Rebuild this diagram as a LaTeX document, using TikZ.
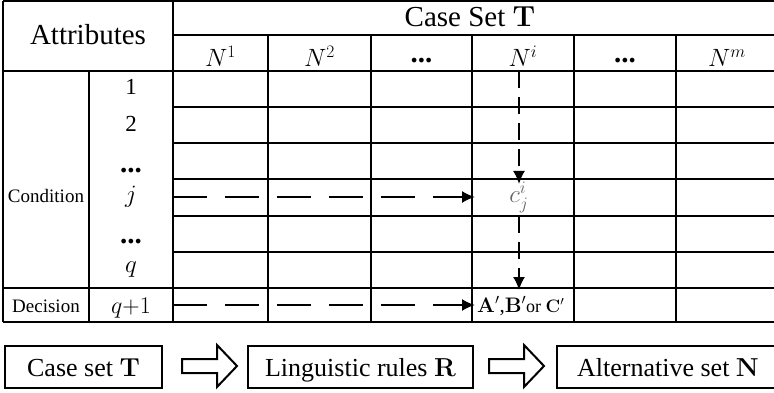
\RequirePackage{fix-cm}
\documentclass[tikz,border=0pt]{standalone}
\usepackage[no-math]{fontspec}
\setmainfont{Liberation Serif}
\usetikzlibrary{arrows.meta}
\newcommand{\fsz}[1]{\fontsize{#1}{#1}\selectfont}
\begin{document}
\begin{tikzpicture}[x=1pt,y=-1pt,
  gridline/.style={line width=1.9pt},
  heavyline/.style={line width=2.8pt},
  thinline/.style={line width=1.4pt},
  lbl/.style={inner sep=0pt, anchor=base},
  hdash/.style={line width=1.9pt, dash pattern=on 34pt off 18pt, -{Latex[length=13pt,width=12pt]}},
  vdash/.style={line width=1.9pt, dash pattern=on 17pt off 9pt, -{Latex[length=13pt,width=12pt]}},
  flowbox/.style={draw, line width=2pt, inner sep=0pt, minimum height=42pt},
  blockarrow/.style={draw, line width=2pt, line join=miter, fill=white},
  dots/.style={lbl, font=\fsz{29}\bfseries}
]
\useasboundingbox (0,0) rectangle (774,393);
\begin{scope}
\clip (0,0) rectangle (774,393);
% table lines
\draw[thinline] (3,1) -- (780,1);
\draw[thinline] (173,35) -- (780,35);
\draw[gridline] (3,71) -- (780,71);
\foreach \yy in {107,143,179,216,252} \draw[gridline] (173,\yy) -- (780,\yy);
\draw[heavyline] (3,288) -- (780,288);
\draw[thinline] (3,322) -- (780,322);
\draw[gridline] (3,1) -- (3,322);
\draw[gridline] (89,71) -- (89,322);
\draw[gridline] (173,1) -- (173,322);
\foreach \xx in {268,371,472,574,676} \draw[gridline] (\xx,35) -- (\xx,322);

% header texts
\node[lbl] (attr) at (88,45) {\fsz{29}Attributes};
\node[lbl] (caseset) at (470,27) {\fsz{29}Case Set $\mathbf{T}$};
\node[lbl] (n1) at (220.5,67) {\fsz{25}$N^{\mathrm{1}}$};
\node[lbl] (n2) at (319.5,67) {\fsz{25}$N^{\mathrm{2}}$};
\node[dots] (hd1) at (421.5,63) {...};
\node[lbl] (ni) at (523,67) {\fsz{25}$N^i$};
\node[dots] (hd2) at (625,63) {...};
\node[lbl] (nm) at (727,67) {\fsz{25}$N^m$};

% left column texts
\node[lbl] (cond) at (46,202) {\fsz{19}Condition};
\node[lbl] (dec) at (46,312) {\fsz{19}Decision};
\node[lbl] (i1) at (131,95) {\fsz{23}1};
\node[lbl] (i2) at (131,132) {\fsz{23}2};
\node[dots] (id1) at (131,172) {...};
\node[lbl] (ij) at (131,203) {\fsz{25}$j$};
\node[dots] (id2) at (131,243) {...};
\node[lbl] (iq) at (131,272) {\fsz{25}$q$};
\node[lbl] (iq1) at (131,313) {\fsz{24}$q{+}1$};

% cell texts
\node[lbl, text=black!60] (cij) at (519,203) {\fsz{25}$c_j^i$};
\node[inner sep=0pt, anchor=base west] (abc) at (477,312) {\fsz{21}$\mathbf{A}'$,$\mathbf{B}'$\fsz{18}or $\fsz{21}\mathbf{C}'$};

% dashed arrows
\coordinate (hj0) at (173,197);
\coordinate (hj1) at (475,197);
\coordinate (hd0) at (173,305);
\coordinate (hd1e) at (475,305);
\coordinate (v0) at (519,71);
\coordinate (v1) at (519,184);
\coordinate (v2) at (519,216);
\coordinate (v3) at (519,290);
\draw[hdash] (hj0) -- (hj1);
\draw[hdash] (hd0) -- (hd1e);
\draw[vdash] (v0) -- (v1);
\draw[vdash] (v2) -- (v3);

% bottom flow
\node[flowbox, minimum width=157pt] (b1) at (83.5,367) {};
\node[lbl] (t1) at (83.5,376) {\fsz{26}Case set $\mathbf{T}$};
\node[flowbox, minimum width=225pt] (b2) at (360.5,367) {};
\node[lbl] (t2) at (360.5,376) {\fsz{26}Linguistic rules $\mathbf{R}$};
\node[flowbox, minimum width=222pt] (b3) at (668,367) {};
\node[lbl] (t3) at (668,376) {\fsz{26}Alternative set $\mathbf{N}$};

\draw[blockarrow] (182,359) -- (217,359) -- (217,345) -- (237,366) -- (217,387) -- (217,373) -- (182,373) -- cycle;
\draw[blockarrow, xshift=307pt] (182,359) -- (217,359) -- (217,345) -- (237,366) -- (217,387) -- (217,373) -- (182,373) -- cycle;
\end{scope}
\end{tikzpicture}
\end{document}
